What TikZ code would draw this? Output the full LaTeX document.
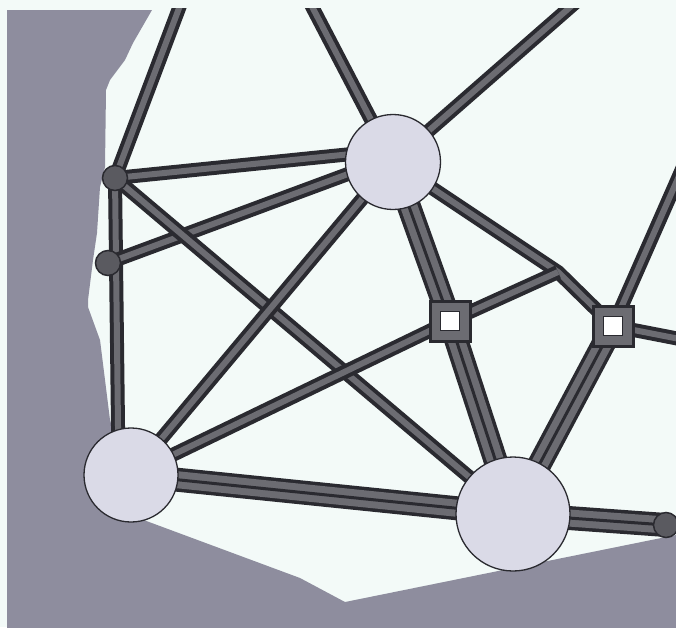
\documentclass[tikz,border=0pt]{standalone}
\definecolor{bgc}{RGB}{243,250,248}
\definecolor{regc}{RGB}{142,141,158}
\definecolor{edk}{RGB}{42,42,48}
\definecolor{egr}{RGB}{108,108,114}
\definecolor{bigf}{RGB}{218,218,231}
\definecolor{smf}{RGB}{90,90,96}
\definecolor{sqf}{RGB}{108,108,114}
\tikzset{
  sedge/.style={draw=edk, line width=4pt, double=egr, double distance=6pt},
  tedge/.style={draw=edk, line width=3pt, preaction={draw=edk, line width=3.5pt, double=egr, double distance=17pt}},
  bigshape/.style={circle, inner sep=0pt, outer sep=0pt},
  bignode/.style={bigshape, fill=bigf, draw=edk, line width=1.3pt},
  smallnode/.style={circle, fill=smf, draw=edk, line width=1.5pt, inner sep=0pt, minimum size=25pt},
  sqnode/.style={rectangle, fill=sqf, draw=edk, line width=3pt, inner sep=0pt, minimum size=40pt},
  sqin/.style={rectangle, fill=white, draw=edk, line width=1.2pt, inner sep=0pt, minimum size=19pt},
}
\begin{document}
\begin{tikzpicture}[x=1pt,y=-1pt]
\useasboundingbox (0,0) rectangle (676,627);
\fill[bgc] (0,0) rectangle (676,627);
\begin{scope}
\clip (7,8) rectangle (676,627);
% grey region
\fill[regc] (7,10) -- (152,10) -- (133,43) -- (125,60) -- (110,80) -- (106,90)
  -- (105,167) -- (100,187) -- (97,233) -- (93,260) -- (88,300) -- (88,307)
  -- (100,340) -- (110,420) -- (125,470) -- (141,519) -- (300,578) -- (345,602)
  -- (676,535) -- (676,640) -- (7,640) -- cycle;

% anchor shapes (not drawn)
\node[bigshape, minimum size=95pt] (A) at (393,162) {};
\node[bigshape, minimum size=94pt] (B) at (131,475) {};
\node[bigshape, minimum size=114pt] (C) at (513,514) {};
\coordinate (D) at (115,178);
\coordinate (E) at (108,263);
\coordinate (F) at (666,525);
\coordinate (G) at (450,321);
\coordinate (H) at (613,326);
\coordinate (J) at (558,272);
\coordinate (T1) at (184,-5);
\coordinate (T2) at (306,-5);
\coordinate (T3) at (584,-5);
\coordinate (T4) at (690,151);
\coordinate (T5) at (690,341);

% single edges
\draw[sedge] (D) -- (T1);
\draw[sedge] (A.center) -- (T2);
\draw[sedge] (A.center) -- (T3);
\draw[sedge, shorten >=-8pt] (D) -- (B.106);
\draw[sedge, shorten >=-8pt] (E) -- (A.195);
\draw[sedge, shorten >=-8pt] (D) -- (A.171);
\draw[sedge] (D) -- (C.center);
\draw[sedge] (B.center) -- (A.center);
\draw[sedge] (B.center) -- (G);
\draw[sedge] (A.center) -- (J) -- (H);
\draw[sedge] (G) -- (J);
\draw[sedge] (H) -- (T4);
\draw[sedge] (H) -- (T5);
% triple edges
\draw[tedge] (B.center) -- (C.center);
\draw[tedge] (A.center) -- (G);
\draw[tedge] (G) -- (C.center);
\draw[tedge] (H) -- (C.center);
\draw[tedge] (C.center) -- (F);

% visible nodes
\node[bignode, minimum size=95pt] (Av) at (A.center) {};
\node[bignode, minimum size=94pt] (Bv) at (B.center) {};
\node[bignode, minimum size=114pt] (Cv) at (C.center) {};
\node[smallnode] (Dv) at (D) {};
\node[smallnode] (Ev) at (E) {};
\node[smallnode] (Fv) at (F) {};
\node[sqnode] (Gv) at (G) {};
\node[sqin] (Gi) at (G) {};
\node[sqnode] (Hv) at (H) {};
\node[sqin] (Hi) at (H) {};
\end{scope}
\end{tikzpicture}
\end{document}
